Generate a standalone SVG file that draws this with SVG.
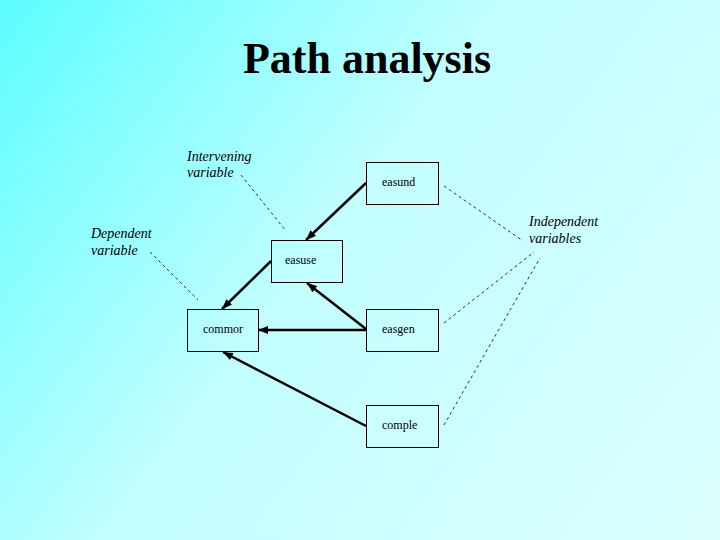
<svg xmlns="http://www.w3.org/2000/svg" width="720" height="540" viewBox="0 0 720 540">
  <defs>
    <linearGradient id="bg" gradientUnits="userSpaceOnUse" x1="0" y1="0" x2="720" y2="540">
      <stop offset="0" stop-color="#5CFDFF"/>
      <stop offset="0.45" stop-color="#C2FEFF"/>
      <stop offset="1" stop-color="#DCFFFF"/>
    </linearGradient>
    <marker id="arrow" viewBox="0 0 10 8" refX="10" refY="4" markerWidth="10" markerHeight="8" markerUnits="userSpaceOnUse" orient="auto">
      <path d="M0,0 L10,4 L0,8 Z" fill="#000"/>
    </marker>
    <style>
      .box { fill: none; stroke: #000; stroke-width: 1; }
      .lbl { font-family: "Liberation Serif", "Times New Roman", serif; font-size: 12px; fill: #000; }
      .note { font-family: "Liberation Serif", "Times New Roman", serif; font-size: 14px; font-style: italic; fill: #000; }
      .title { font-family: "Liberation Serif", "Times New Roman", serif; font-size: 44px; font-weight: bold; fill: #000; }
      .arr { stroke: #000; stroke-width: 2.5; fill: none; marker-end: url(#arrow); }
      .dash { stroke: #000; stroke-width: 0.8; stroke-dasharray: 3 3; fill: none; }
    </style>
  </defs>
  <rect x="0" y="0" width="720" height="540" fill="url(#bg)"/>
  <text class="title" x="367" y="73" text-anchor="middle">Path analysis</text>

  <g id="note-intervening">
    <text class="note" x="187" y="161">Intervening</text>
    <text class="note" x="187" y="177">variable</text>
  </g>
  <g id="note-dependent">
    <text class="note" x="91" y="238">Dependent</text>
    <text class="note" x="91" y="255">variable</text>
  </g>
  <g id="note-independent">
    <text class="note" x="529" y="226">Independent</text>
    <text class="note" x="529" y="243">variables</text>
  </g>

  <g id="easund">
    <rect class="box" x="366.5" y="162.5" width="72" height="42"/>
    <text class="lbl" x="382" y="186">easund</text>
  </g>
  <g id="easuse">
    <rect class="box" x="271.5" y="240.5" width="71" height="42"/>
    <text class="lbl" x="285" y="264">easuse</text>
  </g>
  <g id="commor">
    <rect class="box" x="187.5" y="309.5" width="71" height="42"/>
    <text class="lbl" x="203" y="333">commor</text>
  </g>
  <g id="easgen">
    <rect class="box" x="366.5" y="309.5" width="72" height="42"/>
    <text class="lbl" x="382" y="333">easgen</text>
  </g>
  <g id="comple">
    <rect class="box" x="366.5" y="405.5" width="72" height="42"/>
    <text class="lbl" x="382" y="429">comple</text>
  </g>

  <g id="connectors">
    <line class="arr" x1="366" y1="183" x2="306" y2="240"/>
    <line class="arr" x1="271" y1="261" x2="222" y2="309"/>
    <line class="arr" x1="366" y1="329" x2="307" y2="283"/>
    <line class="arr" x1="366" y1="330" x2="258" y2="330"/>
    <line class="arr" x1="366" y1="426" x2="223" y2="352"/>
    <line class="dash" x1="241" y1="175" x2="286" y2="231"/>
    <line class="dash" x1="150" y1="252" x2="198" y2="300"/>
    <line class="dash" x1="444" y1="186" x2="523" y2="241"/>
    <line class="dash" x1="444" y1="323" x2="534" y2="252"/>
    <line class="dash" x1="444" y1="425" x2="540" y2="258"/>
  </g>
</svg>
